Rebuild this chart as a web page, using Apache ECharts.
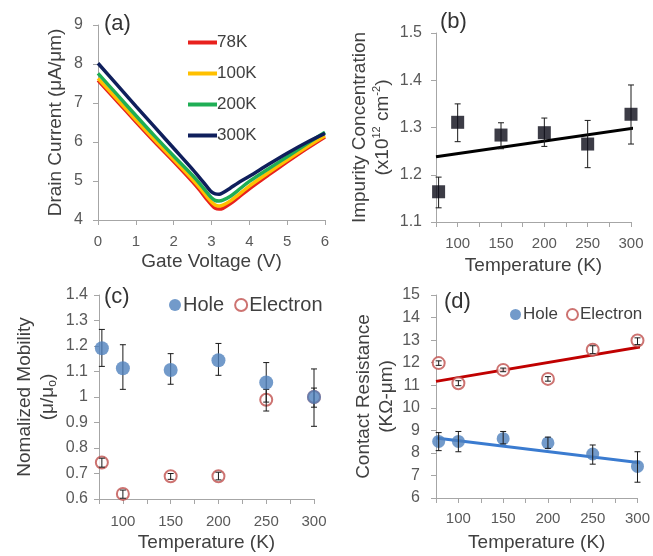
<!DOCTYPE html>
<html>
<head>
<meta charset="utf-8">
<script src="https://cdn.jsdelivr.net/npm/echarts@6/dist/echarts.min.js"></script>
<style>
html,body{margin:0;padding:0;background:#fff;}
#chart{width:653px;height:556px;}
</style>
</head>
<body>
<div id="chart"></div>
<script>
// ---------- Panel (a): drain current vs gate voltage ----------
const gateVoltage = [0, 0.5, 1, 1.5, 2, 2.5, 2.7, 2.9, 3.0, 3.1, 3.2, 3.3, 3.5, 3.7, 4, 4.5, 5, 5.5, 6];
const current78K  = [7.58, 7.05, 6.52, 6.00, 5.50, 4.98, 4.75, 4.50, 4.39, 4.30, 4.28, 4.30, 4.42, 4.57, 4.80, 5.15, 5.49, 5.82, 6.13];
const current100K = [7.63, 7.10, 6.57, 6.05, 5.55, 5.04, 4.82, 4.57, 4.46, 4.38, 4.36, 4.38, 4.49, 4.64, 4.87, 5.21, 5.54, 5.86, 6.16];
const current200K = [7.76, 7.22, 6.68, 6.15, 5.64, 5.14, 4.92, 4.68, 4.57, 4.50, 4.49, 4.51, 4.61, 4.76, 4.99, 5.31, 5.62, 5.94, 6.25];
const current300K = [8.02, 7.47, 6.92, 6.38, 5.84, 5.30, 5.07, 4.83, 4.72, 4.67, 4.66, 4.70, 4.82, 4.95, 5.12, 5.42, 5.71, 5.98, 6.22];
const curveNames = ['78K', '100K', '200K', '300K'];

// ---------- Panel (b): impurity concentration ----------
const tempB = [78, 100, 150, 200, 250, 300];
const impurity     = [1.164, 1.311, 1.284, 1.289, 1.265, 1.328];
const impurityLow  = [1.130, 1.270, 1.255, 1.260, 1.215, 1.265];
const impurityHigh = [1.195, 1.350, 1.310, 1.320, 1.315, 1.390];
const impurityFitT = [75, 316];
const impurityFit  = [1.238, 1.302];

// ---------- Panel (c): normalized mobility ----------
const tempC = [78, 100, 150, 200, 250, 300];
const holeMobility   = [1.191, 1.113, 1.106, 1.144, 1.057, 1.000];
const holeMobLow     = [1.120, 1.030, 1.050, 1.085, 0.980, 0.885];
const holeMobHigh    = [1.265, 1.205, 1.170, 1.210, 1.135, 1.110];
const elecMobility   = [0.743, 0.620, 0.689, 0.689, 0.989, 1.000];
const elecMobLow     = [0.725, 0.603, 0.677, 0.675, 0.945, 0.960];
const elecMobHigh    = [0.760, 0.635, 0.700, 0.705, 1.030, 1.035];

// ---------- Panel (d): contact resistance ----------
const tempD = [78, 100, 150, 200, 250, 300];
const holeRc     = [8.51, 8.51, 8.63, 8.44, 7.95, 7.40];
const holeRcLow  = [8.10, 8.05, 8.40, 8.20, 7.50, 6.70];
const holeRcHigh = [8.90, 8.95, 8.95, 8.70, 8.35, 8.05];
const elecRc     = [11.98, 11.09, 11.68, 11.28, 12.57, 12.98];
const elecRcLow  = [11.88, 10.98, 11.60, 11.18, 12.40, 12.80];
const elecRcHigh = [12.08, 11.20, 11.76, 11.38, 12.75, 13.10];
const rcFitT    = [75, 305];
const holeRcFit = [8.66, 7.55];
const elecRcFit = [11.17, 12.71];

// ---------- helpers ----------
const zip = (xs, ys) => xs.map((x, i) => [x, ys[i]]);
const zip3 = (xs, a, b) => xs.map((x, i) => [x, a[i], b[i]]);

function errorBarRender(params, api) {
  const x = api.value(0), lo = api.value(1), hi = api.value(2);
  const p1 = api.coord([x, lo]);
  const p2 = api.coord([x, hi]);
  const cap = 3;
  const st = { stroke: '#1a1a1a', lineWidth: 1 };
  return {
    type: 'group',
    children: [
      { type: 'line', shape: { x1: p1[0], y1: p1[1], x2: p2[0], y2: p2[1] }, style: st },
      { type: 'line', shape: { x1: p1[0] - cap, y1: p1[1], x2: p1[0] + cap, y2: p1[1] }, style: st },
      { type: 'line', shape: { x1: p2[0] - cap, y1: p2[1], x2: p2[0] + cap, y2: p2[1] }, style: st }
    ]
  };
}
function errorSeries(idx, data, z) {
  return {
    type: 'custom', xAxisIndex: idx, yAxisIndex: idx, renderItem: errorBarRender,
    data: data, encode: { x: 0, y: [1, 2] }, z: z, silent: true
  };
}

const FONT = '"Liberation Sans", Arial, sans-serif';
const axisGray = '#a6a6a6';
const tickColor = '#595959';
const titleColor = '#404040';

function baseAxis(extra) {
  return Object.assign({
    type: 'value',
    axisLine: { show: true, lineStyle: { color: axisGray, width: 1 } },
    axisTick: { show: true, length: 5, lineStyle: { color: axisGray } },
    splitLine: { show: false },
    axisLabel: { color: tickColor, fontSize: 15, fontFamily: FONT },
    nameLocation: 'middle',
    nameTextStyle: { color: titleColor, fontSize: 19, fontFamily: FONT }
  }, extra);
}
const tempFormatter = v => (v % 50 === 0 && v >= 100) ? String(v) : '';

const option = {
  backgroundColor: '#ffffff',
  animation: false,
  textStyle: { fontFamily: FONT },
  grid: [
    { left: 98, top: 25, width: 227, height: 195 },
    { left: 436, top: 33, width: 195, height: 189 },
    { left: 99, top: 295, width: 215, height: 204 },
    { left: 436, top: 295, width: 203, height: 203 }
  ],
  xAxis: [
    baseAxis({ gridIndex: 0, min: 0, max: 6, interval: 1, name: 'Gate Voltage (V)', nameGap: 32,
      axisLabel: { color: tickColor, fontSize: 15, fontFamily: FONT, margin: 14 } }),
    baseAxis({ gridIndex: 1, min: 75, max: 300, interval: 25, name: 'Temperature (K)', nameGap: 34,
      axisLabel: { color: tickColor, fontSize: 15, fontFamily: FONT, margin: 14, formatter: tempFormatter } }),
    baseAxis({ gridIndex: 2, min: 75, max: 300, interval: 25, name: 'Temperature (K)', nameGap: 34,
      axisLabel: { color: tickColor, fontSize: 15, fontFamily: FONT, margin: 15, formatter: tempFormatter } }),
    baseAxis({ gridIndex: 3, min: 75, max: 300, interval: 25, name: 'Temperature (K)', nameGap: 35,
      axisLabel: { color: tickColor, fontSize: 15, fontFamily: FONT, margin: 13, formatter: tempFormatter } })
  ],
  yAxis: [
    baseAxis({ gridIndex: 0, min: 4, max: 9, interval: 1, name: 'Drain Current (μA/μm)', nameGap: 33, nameRotate: 90,
      axisLabel: { color: tickColor, fontSize: 16, fontFamily: FONT, margin: 15 } }),
    baseAxis({ gridIndex: 1, min: 1.1, max: 1.5, interval: 0.1, nameGap: 42, nameRotate: 90,
      name: 'Impurity Concentration\n(x10{sup|12} cm{sup|-2})',
      nameTextStyle: { color: titleColor, fontSize: 19, lineHeight: 23, fontFamily: FONT,
        rich: { sup: { fontSize: 11, verticalAlign: 'top', lineHeight: 23, color: titleColor } } },
      axisLabel: { color: tickColor, fontSize: 16, fontFamily: FONT, margin: 14 } }),
    baseAxis({ gridIndex: 2, min: 0.6, max: 1.4, interval: 0.1, nameGap: 40, nameRotate: 90,
      name: 'Nomalized Mobility\n(μ/μ{sub|o})',
      nameTextStyle: { color: titleColor, fontSize: 19, lineHeight: 23, fontFamily: FONT,
        rich: { sub: { fontSize: 12, verticalAlign: 'bottom', lineHeight: 23, color: titleColor } } },
      axisLabel: { color: tickColor, fontSize: 16, fontFamily: FONT, margin: 11 } }),
    baseAxis({ gridIndex: 3, min: 6, max: 15, interval: 1, nameGap: 37, nameRotate: 90,
      name: 'Contact Resistance\n(KΩ-μm)',
      nameTextStyle: { color: titleColor, fontSize: 19, lineHeight: 23, fontFamily: FONT },
      axisLabel: { color: tickColor, fontSize: 16, fontFamily: FONT, margin: 16 } })
  ],
  legend: [
    { data: curveNames, orient: 'vertical', left: 183, top: 29, icon: 'rect', itemWidth: 29, itemHeight: 4,
      itemGap: 14, textStyle: { color: titleColor, fontSize: 17, fontFamily: FONT, padding: [0, 0, 0, -5] } },
    { data: [{ name: 'Hole', icon: 'circle' }, { name: 'Electron', icon: 'emptyCircle' }], orient: 'horizontal',
      left: 164, top: 290, itemWidth: 12, itemHeight: 12, itemGap: 10,
      textStyle: { color: titleColor, fontSize: 20, fontFamily: FONT, padding: [0, 0, 0, -3] } },
    { data: [{ name: 'Hole', icon: 'circle' }, { name: 'Electron', icon: 'emptyCircle' }], orient: 'horizontal',
      left: 505, top: 301, itemWidth: 11, itemHeight: 11, itemGap: 8,
      textStyle: { color: titleColor, fontSize: 17, fontFamily: FONT, padding: [0, 0, 0, -3] } }
  ],
  graphic: [
    { type: 'text', left: 104, top: 13, style: { text: '(a)', fontSize: 22, fill: '#333', fontFamily: FONT } },
    { type: 'text', left: 440, top: 11, style: { text: '(b)', fontSize: 22, fill: '#333', fontFamily: FONT } },
    { type: 'text', left: 104, top: 286, style: { text: '(c)', fontSize: 22, fill: '#333', fontFamily: FONT } },
    { type: 'text', left: 444, top: 291, style: { text: '(d)', fontSize: 22, fill: '#333', fontFamily: FONT } }
  ],
  series: [
    // (a)
    { name: '78K', type: 'line', xAxisIndex: 0, yAxisIndex: 0, data: zip(gateVoltage, current78K),
      showSymbol: false, smooth: 0.3, lineStyle: { width: 3.5, color: '#e8211d' }, itemStyle: { color: '#e8211d' }, z: 2 },
    { name: '100K', type: 'line', xAxisIndex: 0, yAxisIndex: 0, data: zip(gateVoltage, current100K),
      showSymbol: false, smooth: 0.3, lineStyle: { width: 3.5, color: '#ffc000' }, itemStyle: { color: '#ffc000' }, z: 3 },
    { name: '200K', type: 'line', xAxisIndex: 0, yAxisIndex: 0, data: zip(gateVoltage, current200K),
      showSymbol: false, smooth: 0.3, lineStyle: { width: 3.5, color: '#1fae55' }, itemStyle: { color: '#1fae55' }, z: 4 },
    { name: '300K', type: 'line', xAxisIndex: 0, yAxisIndex: 0, data: zip(gateVoltage, current300K),
      showSymbol: false, smooth: 0.3, lineStyle: { width: 3.5, color: '#0f1f5c' }, itemStyle: { color: '#0f1f5c' }, z: 5 },

    // (b)
    { name: 'fitB', type: 'line', xAxisIndex: 1, yAxisIndex: 1, data: zip(impurityFitT, impurityFit),
      showSymbol: false, clip: false, lineStyle: { width: 3, color: '#000' }, z: 2 },
    errorSeries(1, zip3(tempB, impurityLow, impurityHigh), 3),
    { name: 'Impurity', type: 'scatter', xAxisIndex: 1, yAxisIndex: 1, data: zip(tempB, impurity),
      symbol: 'rect', symbolSize: 13, itemStyle: { color: '#0b0b18' }, z: 4 },

    // (c)
    { name: 'Electron', type: 'scatter', xAxisIndex: 2, yAxisIndex: 2, data: zip(tempC, elecMobility),
      symbol: 'emptyCircle', symbolSize: 12, itemStyle: { color: '#c0504d', borderColor: '#c0504d', borderWidth: 1.3 }, z: 2 },
    errorSeries(2, zip3(tempC, elecMobLow, elecMobHigh), 3),
    errorSeries(2, zip3(tempC, holeMobLow, holeMobHigh), 3),
    { name: 'Hole', type: 'scatter', xAxisIndex: 2, yAxisIndex: 2, data: zip(tempC, holeMobility),
      symbol: 'circle', symbolSize: 14, itemStyle: { color: '#4f81bd' }, z: 4 },

    // (d)
    { name: 'fitElec', type: 'line', xAxisIndex: 3, yAxisIndex: 3, data: zip(rcFitT, elecRcFit),
      showSymbol: false, clip: false, lineStyle: { width: 3, color: '#c00000' }, z: 1 },
    { name: 'fitHole', type: 'line', xAxisIndex: 3, yAxisIndex: 3, data: zip(rcFitT, holeRcFit),
      showSymbol: false, clip: false, lineStyle: { width: 3, color: '#3a7bd0' }, z: 1 },
    { name: 'Electron', type: 'scatter', xAxisIndex: 3, yAxisIndex: 3, data: zip(tempD, elecRc),
      symbol: 'emptyCircle', symbolSize: 12, itemStyle: { color: '#c0504d', borderColor: '#c0504d', borderWidth: 1.3 }, z: 2 },
    errorSeries(3, zip3(tempD, elecRcLow, elecRcHigh), 3),
    { name: 'Hole', type: 'scatter', xAxisIndex: 3, yAxisIndex: 3, data: zip(tempD, holeRc),
      symbol: 'circle', symbolSize: 13, itemStyle: { color: '#4f81bd' }, z: 2 },
    errorSeries(3, zip3(tempD, holeRcLow, holeRcHigh), 3)
  ]
};

const chart = echarts.init(document.getElementById('chart'), null, { renderer: 'canvas' });
chart.setOption(option);
</script>
</body>
</html>
